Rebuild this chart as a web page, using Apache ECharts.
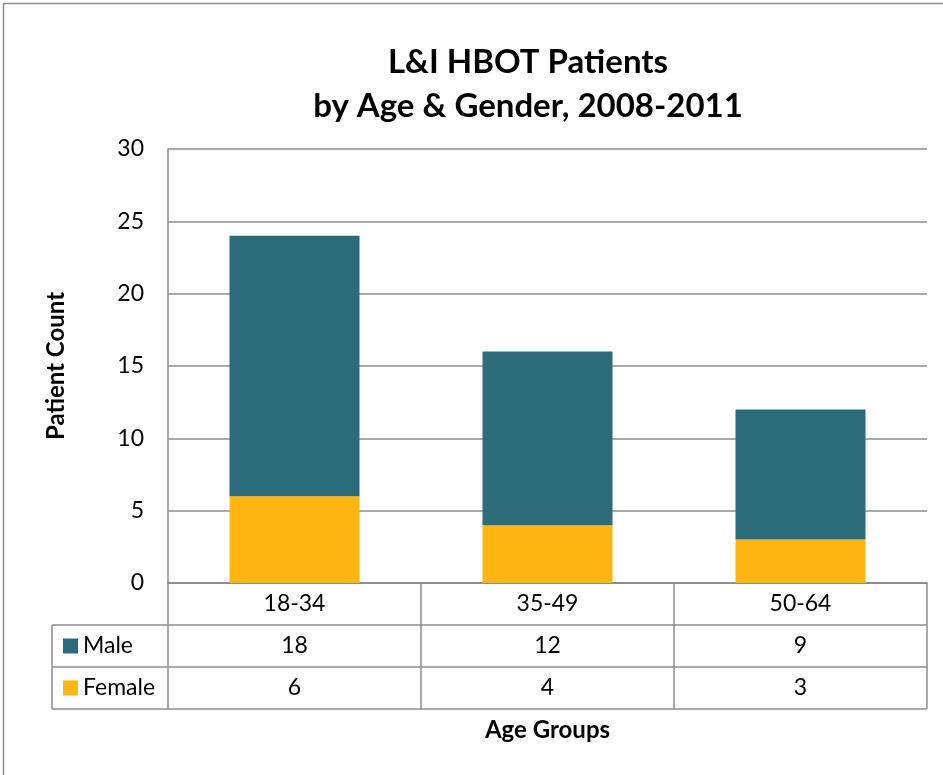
<!DOCTYPE html>
<html>
<head>
<meta charset="utf-8">
<script src="https://cdn.jsdelivr.net/npm/echarts@6/dist/echarts.min.js"></script>
<style>
html,body{margin:0;padding:0;background:#fff;}
#main{width:943px;height:775px;}
</style>
</head>
<body>
<div id="main"></div>
<script>
const ageGroups = ['18-34', '35-49', '50-64'];
const male = [18, 12, 9];
const female = [6, 4, 3];
const seriesNames = ['Male', 'Female'];
const colors = ['#2c6b7a', '#ffb612'];

const font = 'Lato, "Open Sans", sans-serif';
const gridColor = '#8c8c8c';

const main = document.getElementById('main');
const myChart = echarts.init(main);

myChart.setOption({
    animation: false,
    title: {
        text: 'L&I HBOT Patients\nby Age & Gender, 2008-2011',
        left: 523,
        textAlign: 'center',
        top: 35,
        textStyle: {
            fontFamily: font,
            fontSize: 33,
            fontWeight: 'bold',
            lineHeight: 44,
            color: '#000'
        }
    },
    grid: {left: 168, right: 16, top: 149, bottom: 192},
    xAxis: {
        type: 'category',
        data: ageGroups,
        axisLine: {show: true, lineStyle: {color: gridColor, width: 1.5}},
        axisTick: {show: false},
        axisLabel: {show: false}
    },
    yAxis: {
        type: 'value',
        min: 0,
        max: 30,
        interval: 5,
        name: 'Patient Count',
        nameLocation: 'middle',
        nameGap: 100,
        nameTextStyle: {fontFamily: font, fontSize: 24, fontWeight: 'bold', color: '#000'},
        axisLine: {show: true, lineStyle: {color: gridColor, width: 1.5}},
        axisTick: {show: false},
        axisLabel: {fontFamily: font, fontSize: 23, color: '#000', margin: 24},
        splitLine: {lineStyle: {color: gridColor, width: 1.5}}
    },
    series: [
        {
            name: seriesNames[1],
            type: 'bar',
            stack: 'total',
            data: female,
            barWidth: 130,
            itemStyle: {color: colors[1]}
        },
        {
            name: seriesNames[0],
            type: 'bar',
            stack: 'total',
            data: male,
            barWidth: 130,
            itemStyle: {color: colors[0]}
        }
    ]
});

// data table under the plot, positioned from the chart's own scales
function buildTable() {
    const rowH = 42;
    const tableLeft = 52;
    const x0 = myChart.convertToPixel({xAxisIndex: 0}, ageGroups[0]);
    const x1 = myChart.convertToPixel({xAxisIndex: 0}, ageGroups[1]);
    const band = x1 - x0;
    const plotLeft = x0 - band / 2;
    const plotRight = plotLeft + band * ageGroups.length;
    const yTop = myChart.convertToPixel({yAxisIndex: 0}, 0);
    const lineStyle = {stroke: gridColor, lineWidth: 1.5};
    const textStyle = {fontFamily: font, fontSize: 23, fill: '#000'};
    const els = [];

    const rows = [male, female];
    const yBottom = yTop + rowH * (rows.length + 1);

    // horizontal lines
    els.push({type: 'line', shape: {x1: plotLeft, y1: yTop, x2: plotRight, y2: yTop}, style: lineStyle});
    for (let r = 1; r <= rows.length + 1; r++) {
        const y = yTop + rowH * r;
        els.push({type: 'line', shape: {x1: tableLeft, y1: y, x2: plotRight, y2: y}, style: lineStyle});
    }
    // vertical lines
    els.push({type: 'line', shape: {x1: tableLeft, y1: yTop + rowH, x2: tableLeft, y2: yBottom}, style: lineStyle});
    for (let c = 0; c <= ageGroups.length; c++) {
        const x = plotLeft + band * c;
        els.push({type: 'line', shape: {x1: x, y1: yTop, x2: x, y2: yBottom}, style: lineStyle});
    }
    // header labels
    ageGroups.forEach((g, i) => {
        els.push({type: 'text', x: plotLeft + band * (i + 0.5), y: yTop + rowH / 2,
            style: Object.assign({text: g, align: 'center', verticalAlign: 'middle'}, textStyle)});
    });
    // data rows
    rows.forEach((vals, r) => {
        const cy = yTop + rowH * (r + 1.5);
        els.push({type: 'rect', shape: {x: tableLeft + 11, y: cy - 7.5, width: 15, height: 15},
            style: {fill: colors[r]}});
        els.push({type: 'text', x: tableLeft + 31, y: cy,
            style: Object.assign({text: seriesNames[r], align: 'left', verticalAlign: 'middle'}, textStyle)});
        vals.forEach((v, i) => {
            els.push({type: 'text', x: plotLeft + band * (i + 0.5), y: cy,
                style: Object.assign({text: String(v), align: 'center', verticalAlign: 'middle'}, textStyle)});
        });
    });
    // axis title
    els.push({type: 'text', x: plotLeft + band * ageGroups.length / 2, y: yBottom + 21,
        style: {text: 'Age Groups', fontFamily: font, fontSize: 24, fontWeight: 'bold', fill: '#000',
            align: 'center', verticalAlign: 'middle'}});
    // outer chart border
    els.push({type: 'rect', shape: {x: 3.5, y: 3.5, width: 960, height: 800},
        style: {fill: 'none', stroke: '#8c8c8c', lineWidth: 1.5}});

    myChart.setOption({graphic: {elements: els}});
}
buildTable();
</script>
</body>
</html>
